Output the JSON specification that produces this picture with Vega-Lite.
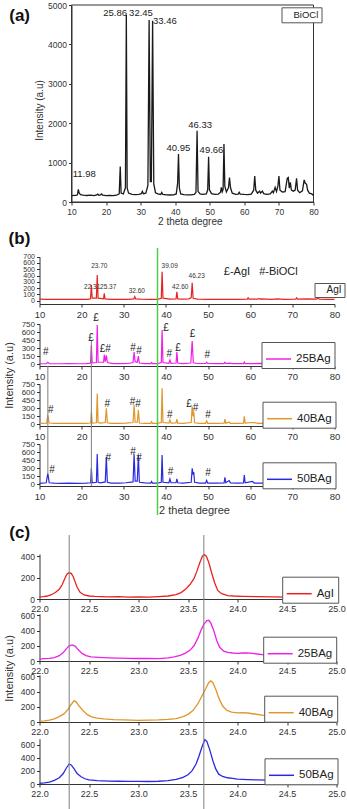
{
  "$schema": "https://vega.github.io/schema/vega-lite/v6.json",
  "background": "white",
  "padding": {"left": 2.5, "top": 1, "right": 0, "bottom": 0},
  "config": {
    "view": {"stroke": null},
    "font": "Liberation Sans",
    "axis": {
      "grid": false,
      "labelFont": "Liberation Sans",
      "labelFontSize": 9.5,
      "labelColor": "#333",
      "labelFlush": false,
      "labelOverlap": false,
      "labelPadding": 2,
      "titleFont": "Liberation Sans",
      "titleFontSize": 11,
      "titleFontWeight": "normal",
      "titleColor": "#333",
      "titleAlign": "center",
      "titleBaseline": "middle",
      "tickSize": 3,
      "tickColor": "#333",
      "domainColor": "#333"
    },
    "legend": {
      "strokeColor": "#555",
      "fillColor": "white",
      "padding": 3.5,
      "symbolType": "stroke",
      "symbolSize": 625,
      "symbolStrokeWidth": 1.5,
      "labelFont": "Liberation Sans",
      "labelFontSize": 11.5,
      "labelColor": "#222",
      "labelOffset": 4
    }
  },
  "datasets": {
    "bioclA": [
      {"x": 10, "y": 160}, {"x": 11, "y": 168}, {"x": 11.6, "y": 172}, {"x": 11.75, "y": 200}, {"x": 11.98, "y": 320}, {"x": 12.2, "y": 230}, {"x": 12.6, "y": 185}, {"x": 13.4, "y": 172}, {"x": 14.5, "y": 165}, {"x": 15.5, "y": 172}, {"x": 16.5, "y": 160}, {"x": 17.3, "y": 178}, {"x": 17.6, "y": 200}, {"x": 17.9, "y": 170}, {"x": 18.4, "y": 182}, {"x": 18.7, "y": 205}, {"x": 19, "y": 172}, {"x": 20, "y": 160}, {"x": 21, "y": 168}, {"x": 22, "y": 162}, {"x": 23, "y": 172}, {"x": 23.8, "y": 205}, {"x": 24.1, "y": 900}, {"x": 24.35, "y": 225}, {"x": 25, "y": 205}, {"x": 25.6, "y": 360}, {"x": 25.86, "y": 4750}, {"x": 26.1, "y": 360}, {"x": 26.5, "y": 225}, {"x": 27.5, "y": 192}, {"x": 28.5, "y": 188}, {"x": 29.5, "y": 192}, {"x": 30.2, "y": 212}, {"x": 30.5, "y": 270}, {"x": 30.8, "y": 212}, {"x": 31.5, "y": 225}, {"x": 32.1, "y": 420}, {"x": 32.45, "y": 4620}, {"x": 32.8, "y": 520}, {"x": 33.1, "y": 520}, {"x": 33.46, "y": 4600}, {"x": 33.8, "y": 460}, {"x": 34.3, "y": 235}, {"x": 35, "y": 205}, {"x": 35.8, "y": 192}, {"x": 36.1, "y": 245}, {"x": 36.4, "y": 192}, {"x": 37.5, "y": 182}, {"x": 38.5, "y": 178}, {"x": 39.5, "y": 182}, {"x": 40.3, "y": 205}, {"x": 40.7, "y": 480}, {"x": 40.95, "y": 1220}, {"x": 41.2, "y": 350}, {"x": 41.6, "y": 205}, {"x": 42.5, "y": 188}, {"x": 43.5, "y": 182}, {"x": 44.5, "y": 182}, {"x": 45.5, "y": 192}, {"x": 46.0, "y": 240}, {"x": 46.33, "y": 1810}, {"x": 46.6, "y": 270}, {"x": 47.2, "y": 205}, {"x": 48, "y": 192}, {"x": 49, "y": 205}, {"x": 49.4, "y": 310}, {"x": 49.66, "y": 1150}, {"x": 49.9, "y": 310}, {"x": 50.5, "y": 212}, {"x": 51.5, "y": 192}, {"x": 52.5, "y": 202}, {"x": 53.1, "y": 250}, {"x": 53.35, "y": 370}, {"x": 53.6, "y": 260}, {"x": 53.85, "y": 320}, {"x": 54.1, "y": 1470}, {"x": 54.35, "y": 400}, {"x": 54.8, "y": 255}, {"x": 55.4, "y": 360}, {"x": 55.7, "y": 620}, {"x": 56, "y": 360}, {"x": 56.5, "y": 225}, {"x": 57.5, "y": 192}, {"x": 58.2, "y": 202}, {"x": 58.5, "y": 245}, {"x": 58.8, "y": 202}, {"x": 60, "y": 192}, {"x": 61, "y": 188}, {"x": 62, "y": 202}, {"x": 62.7, "y": 300}, {"x": 63, "y": 660}, {"x": 63.3, "y": 300}, {"x": 63.8, "y": 225}, {"x": 64.4, "y": 275}, {"x": 64.7, "y": 225}, {"x": 65.2, "y": 275}, {"x": 65.6, "y": 212}, {"x": 66.5, "y": 192}, {"x": 67.5, "y": 205}, {"x": 68.1, "y": 275}, {"x": 68.4, "y": 235}, {"x": 68.9, "y": 370}, {"x": 69.3, "y": 265}, {"x": 69.7, "y": 400}, {"x": 70, "y": 660}, {"x": 70.3, "y": 300}, {"x": 71, "y": 255}, {"x": 71.8, "y": 265}, {"x": 72.4, "y": 600}, {"x": 72.7, "y": 620}, {"x": 73, "y": 350}, {"x": 73.3, "y": 500}, {"x": 73.6, "y": 300}, {"x": 74.2, "y": 275}, {"x": 74.7, "y": 300}, {"x": 75.1, "y": 600}, {"x": 75.4, "y": 300}, {"x": 76, "y": 235}, {"x": 76.8, "y": 285}, {"x": 77.3, "y": 560}, {"x": 77.6, "y": 480}, {"x": 78, "y": 450}, {"x": 78.3, "y": 300}, {"x": 78.8, "y": 225}, {"x": 79.5, "y": 205}, {"x": 80, "y": 165}
    ],
    "labA": [
      {"t": "11.98", "x": 13.7, "y": 700}, {"t": "25.86", "x": 22.6, "y": 4800}, {"t": "32.45", "x": 30.1, "y": 4800}, {"t": "33.46", "x": 37.0, "y": 4600}, {"t": "40.95", "x": 40.9, "y": 1380}, {"t": "46.33", "x": 47.2, "y": 1960}, {"t": "49.66", "x": 50.5, "y": 1320}
    ],
    "agiB": [
      {"x": 10, "y": 25}, {"x": 12, "y": 20}, {"x": 14, "y": 22}, {"x": 16, "y": 20}, {"x": 18, "y": 20}, {"x": 20, "y": 22}, {"x": 21.5, "y": 22}, {"x": 22.1, "y": 30}, {"x": 22.31, "y": 248}, {"x": 22.5, "y": 40}, {"x": 23.5, "y": 40}, {"x": 23.7, "y": 408}, {"x": 23.9, "y": 40}, {"x": 25.2, "y": 30}, {"x": 25.37, "y": 118}, {"x": 25.55, "y": 30}, {"x": 27, "y": 22}, {"x": 29, "y": 20}, {"x": 31, "y": 22}, {"x": 32.4, "y": 30}, {"x": 32.6, "y": 64}, {"x": 32.8, "y": 30}, {"x": 34, "y": 25}, {"x": 36, "y": 22}, {"x": 38, "y": 22}, {"x": 38.9, "y": 40}, {"x": 39.09, "y": 461}, {"x": 39.3, "y": 40}, {"x": 41, "y": 25}, {"x": 42.4, "y": 30}, {"x": 42.6, "y": 143}, {"x": 42.8, "y": 30}, {"x": 44, "y": 25}, {"x": 45.5, "y": 30}, {"x": 46.0, "y": 50}, {"x": 46.23, "y": 286}, {"x": 46.45, "y": 40}, {"x": 47.5, "y": 25}, {"x": 50, "y": 20}, {"x": 52, "y": 22}, {"x": 55, "y": 20}, {"x": 57, "y": 20}, {"x": 59.3, "y": 25}, {"x": 59.5, "y": 45}, {"x": 59.7, "y": 25}, {"x": 61.8, "y": 25}, {"x": 62.0, "y": 35}, {"x": 62.3, "y": 25}, {"x": 62.6, "y": 30}, {"x": 65, "y": 20}, {"x": 66.5, "y": 28}, {"x": 68, "y": 20}, {"x": 70.8, "y": 25}, {"x": 71, "y": 45}, {"x": 71.2, "y": 25}, {"x": 73.5, "y": 30}, {"x": 75.8, "y": 25}, {"x": 76.1, "y": 45}, {"x": 76.4, "y": 25}, {"x": 78, "y": 20}, {"x": 80, "y": 22}
    ],
    "labB": [
      {"t": "22.31", "x": 22.5, "y": 213}, {"t": "23.70", "x": 24.2, "y": 556}, {"t": "25.37", "x": 26.3, "y": 213}, {"t": "32.60", "x": 33.1, "y": 154}, {"t": "39.09", "x": 40.9, "y": 552}, {"t": "42.60", "x": 43.4, "y": 213}, {"t": "46.23", "x": 47.3, "y": 397}
    ],
    "b25": [
      {"x": 10, "y": 12}, {"x": 11.6, "y": 14}, {"x": 11.98, "y": 38}, {"x": 12.4, "y": 14}, {"x": 13.5, "y": 12}, {"x": 15, "y": 12}, {"x": 17, "y": 14}, {"x": 19, "y": 12}, {"x": 21, "y": 14}, {"x": 22.1, "y": 22}, {"x": 22.31, "y": 360}, {"x": 22.5, "y": 30}, {"x": 23.5, "y": 35}, {"x": 23.7, "y": 730}, {"x": 23.9, "y": 40}, {"x": 25.2, "y": 40}, {"x": 25.37, "y": 180}, {"x": 25.6, "y": 50}, {"x": 25.86, "y": 170}, {"x": 26.1, "y": 35}, {"x": 27.5, "y": 15}, {"x": 29, "y": 14}, {"x": 31, "y": 16}, {"x": 32.2, "y": 35}, {"x": 32.45, "y": 230}, {"x": 32.7, "y": 50}, {"x": 33.2, "y": 40}, {"x": 33.46, "y": 155}, {"x": 33.7, "y": 25}, {"x": 35, "y": 15}, {"x": 36.4, "y": 15}, {"x": 36.6, "y": 35}, {"x": 36.8, "y": 15}, {"x": 38, "y": 15}, {"x": 38.9, "y": 35}, {"x": 39.09, "y": 637}, {"x": 39.3, "y": 35}, {"x": 40.7, "y": 20}, {"x": 40.95, "y": 80}, {"x": 41.2, "y": 20}, {"x": 42.4, "y": 25}, {"x": 42.6, "y": 230}, {"x": 42.8, "y": 25}, {"x": 44, "y": 15}, {"x": 45.9, "y": 25}, {"x": 46.23, "y": 433}, {"x": 46.5, "y": 30}, {"x": 47.5, "y": 16}, {"x": 49.4, "y": 16}, {"x": 49.66, "y": 40}, {"x": 49.9, "y": 16}, {"x": 52, "y": 14}, {"x": 53.8, "y": 15}, {"x": 54.0, "y": 40}, {"x": 54.3, "y": 15}, {"x": 55, "y": 25}, {"x": 56, "y": 13}, {"x": 58.4, "y": 15}, {"x": 58.6, "y": 45}, {"x": 58.8, "y": 15}, {"x": 61, "y": 14}, {"x": 62.5, "y": 20}, {"x": 65, "y": 13}, {"x": 68, "y": 16}, {"x": 70.8, "y": 14}, {"x": 71, "y": 30}, {"x": 71.2, "y": 14}, {"x": 74, "y": 15}, {"x": 76, "y": 25}, {"x": 77.5, "y": 14}, {"x": 80, "y": 16}
    ],
    "m25": [
      {"t": "#", "x": 11.5, "y": 224}, {"t": "£", "x": 22.2, "y": 483}, {"t": "£", "x": 23.4, "y": 854}, {"t": "£#", "x": 25.6, "y": 285}, {"t": "#", "x": 32.2, "y": 298}, {"t": "#", "x": 33.6, "y": 254}, {"t": "£", "x": 40.0, "y": 669}, {"t": "#", "x": 40.8, "y": 193}, {"t": "£", "x": 42.9, "y": 298}, {"t": "£", "x": 46.3, "y": 557}, {"t": "#", "x": 49.8, "y": 174}
    ],
    "b40": [
      {"x": 10, "y": 18}, {"x": 11.7, "y": 22}, {"x": 11.98, "y": 174}, {"x": 12.3, "y": 25}, {"x": 13.5, "y": 18}, {"x": 15, "y": 17}, {"x": 17, "y": 18}, {"x": 19, "y": 17}, {"x": 21, "y": 18}, {"x": 22.15, "y": 25}, {"x": 22.31, "y": 235}, {"x": 22.5, "y": 25}, {"x": 23.5, "y": 30}, {"x": 23.7, "y": 575}, {"x": 23.9, "y": 35}, {"x": 24.5, "y": 25}, {"x": 25.6, "y": 35}, {"x": 25.86, "y": 300}, {"x": 26.1, "y": 30}, {"x": 27, "y": 20}, {"x": 29, "y": 18}, {"x": 30.5, "y": 22}, {"x": 32.2, "y": 35}, {"x": 32.45, "y": 360}, {"x": 32.7, "y": 40}, {"x": 33.2, "y": 40}, {"x": 33.46, "y": 267}, {"x": 33.7, "y": 25}, {"x": 35, "y": 20}, {"x": 36.4, "y": 20}, {"x": 36.6, "y": 50}, {"x": 36.8, "y": 20}, {"x": 38, "y": 20}, {"x": 38.9, "y": 35}, {"x": 39.09, "y": 670}, {"x": 39.3, "y": 35}, {"x": 40.7, "y": 22}, {"x": 40.95, "y": 85}, {"x": 41.2, "y": 22}, {"x": 42.4, "y": 25}, {"x": 42.6, "y": 100}, {"x": 42.8, "y": 22}, {"x": 44, "y": 20}, {"x": 46.0, "y": 35}, {"x": 46.23, "y": 330}, {"x": 46.45, "y": 150}, {"x": 46.6, "y": 240}, {"x": 46.8, "y": 30}, {"x": 48, "y": 20}, {"x": 49.4, "y": 20}, {"x": 49.66, "y": 65}, {"x": 49.9, "y": 20}, {"x": 52, "y": 20}, {"x": 53.8, "y": 22}, {"x": 54.0, "y": 100}, {"x": 54.2, "y": 22}, {"x": 55, "y": 40}, {"x": 55.3, "y": 20}, {"x": 57, "y": 20}, {"x": 58.4, "y": 22}, {"x": 58.6, "y": 150}, {"x": 58.8, "y": 22}, {"x": 60.5, "y": 35}, {"x": 62, "y": 20}, {"x": 64, "y": 22}, {"x": 66, "y": 20}, {"x": 68.2, "y": 30}, {"x": 70, "y": 20}, {"x": 71, "y": 35}, {"x": 73, "y": 22}, {"x": 75, "y": 30}, {"x": 77.5, "y": 32}, {"x": 80, "y": 20}
    ],
    "m40": [
      {"t": "#", "x": 12.7, "y": 267}, {"t": "#", "x": 26.1, "y": 383}, {"t": "#", "x": 32.1, "y": 420}, {"t": "#", "x": 33.4, "y": 372}, {"t": "#", "x": 40.9, "y": 174}, {"t": "£", "x": 45.5, "y": 378}, {"t": "#", "x": 47.0, "y": 309}, {"t": "#", "x": 50.0, "y": 174}
    ],
    "b50": [
      {"x": 10, "y": 20}, {"x": 11.6, "y": 30}, {"x": 11.98, "y": 205}, {"x": 12.3, "y": 30}, {"x": 13.5, "y": 22}, {"x": 15, "y": 20}, {"x": 17, "y": 22}, {"x": 19, "y": 20}, {"x": 21, "y": 22}, {"x": 22.15, "y": 30}, {"x": 22.31, "y": 300}, {"x": 22.5, "y": 30}, {"x": 23.5, "y": 40}, {"x": 23.7, "y": 563}, {"x": 23.9, "y": 40}, {"x": 24.5, "y": 30}, {"x": 25.6, "y": 45}, {"x": 25.86, "y": 513}, {"x": 26.1, "y": 40}, {"x": 27, "y": 25}, {"x": 29, "y": 22}, {"x": 30.5, "y": 30}, {"x": 32.2, "y": 45}, {"x": 32.45, "y": 557}, {"x": 32.7, "y": 60}, {"x": 33.2, "y": 60}, {"x": 33.46, "y": 545}, {"x": 33.7, "y": 40}, {"x": 35, "y": 28}, {"x": 36.4, "y": 25}, {"x": 36.6, "y": 55}, {"x": 36.8, "y": 25}, {"x": 38, "y": 25}, {"x": 38.9, "y": 40}, {"x": 39.09, "y": 545}, {"x": 39.3, "y": 40}, {"x": 40.7, "y": 30}, {"x": 40.95, "y": 100}, {"x": 41.2, "y": 30}, {"x": 42.4, "y": 30}, {"x": 42.6, "y": 100}, {"x": 42.8, "y": 30}, {"x": 44, "y": 25}, {"x": 46.0, "y": 40}, {"x": 46.23, "y": 300}, {"x": 46.45, "y": 180}, {"x": 46.6, "y": 230}, {"x": 46.8, "y": 40}, {"x": 48, "y": 25}, {"x": 49.4, "y": 25}, {"x": 49.66, "y": 75}, {"x": 49.9, "y": 25}, {"x": 52, "y": 22}, {"x": 53.8, "y": 28}, {"x": 54.0, "y": 130}, {"x": 54.2, "y": 30}, {"x": 55, "y": 70}, {"x": 55.3, "y": 28}, {"x": 57, "y": 22}, {"x": 58.4, "y": 28}, {"x": 58.6, "y": 175}, {"x": 58.8, "y": 28}, {"x": 60.5, "y": 55}, {"x": 61, "y": 25}, {"x": 63, "y": 25}, {"x": 65, "y": 22}, {"x": 66, "y": 30}, {"x": 68.2, "y": 40}, {"x": 69, "y": 22}, {"x": 71, "y": 40}, {"x": 73, "y": 25}, {"x": 74, "y": 30}, {"x": 75, "y": 40}, {"x": 76, "y": 25}, {"x": 77.5, "y": 50}, {"x": 78, "y": 30}, {"x": 80, "y": 22}
    ],
    "m50": [
      {"t": "#", "x": 13.0, "y": 267}, {"t": "#", "x": 26.3, "y": 483}, {"t": "#", "x": 32.2, "y": 606}, {"t": "#", "x": 33.6, "y": 483}, {"t": "#", "x": 41.1, "y": 224}, {"t": "#", "x": 50.0, "y": 206}
    ],
    "agiC": [
      {"x": 22.0, "y": 20}, {"x": 22.04, "y": 22}, {"x": 22.08, "y": 28}, {"x": 22.12, "y": 40}, {"x": 22.16, "y": 60}, {"x": 22.2, "y": 90}, {"x": 22.23, "y": 135}, {"x": 22.26, "y": 200}, {"x": 22.28, "y": 235}, {"x": 22.3, "y": 245}, {"x": 22.32, "y": 240}, {"x": 22.34, "y": 210}, {"x": 22.36, "y": 160}, {"x": 22.38, "y": 110}, {"x": 22.41, "y": 62}, {"x": 22.45, "y": 38}, {"x": 22.5, "y": 28}, {"x": 22.56, "y": 24}, {"x": 22.62, "y": 22}, {"x": 22.7, "y": 20}, {"x": 22.8, "y": 22}, {"x": 22.9, "y": 18}, {"x": 23.0, "y": 20}, {"x": 23.1, "y": 18}, {"x": 23.2, "y": 22}, {"x": 23.3, "y": 28}, {"x": 23.38, "y": 40}, {"x": 23.43, "y": 60}, {"x": 23.48, "y": 95}, {"x": 23.52, "y": 135}, {"x": 23.56, "y": 190}, {"x": 23.59, "y": 260}, {"x": 23.62, "y": 340}, {"x": 23.645, "y": 400}, {"x": 23.665, "y": 415}, {"x": 23.685, "y": 400}, {"x": 23.71, "y": 340}, {"x": 23.74, "y": 240}, {"x": 23.77, "y": 150}, {"x": 23.8, "y": 80}, {"x": 23.84, "y": 50}, {"x": 23.9, "y": 32}, {"x": 23.96, "y": 28}, {"x": 24.05, "y": 25}, {"x": 24.2, "y": 22}, {"x": 24.35, "y": 20}, {"x": 24.5, "y": 18}, {"x": 24.65, "y": 15}, {"x": 24.8, "y": 14}, {"x": 24.9, "y": 12}, {"x": 25.0, "y": 12}
    ],
    "c25": [
      {"x": 22.0, "y": 25}, {"x": 22.05, "y": 30}, {"x": 22.1, "y": 35}, {"x": 22.15, "y": 45}, {"x": 22.2, "y": 70}, {"x": 22.24, "y": 110}, {"x": 22.27, "y": 160}, {"x": 22.3, "y": 200}, {"x": 22.33, "y": 212}, {"x": 22.36, "y": 195}, {"x": 22.39, "y": 150}, {"x": 22.43, "y": 100}, {"x": 22.47, "y": 70}, {"x": 22.52, "y": 55}, {"x": 22.6, "y": 48}, {"x": 22.7, "y": 42}, {"x": 22.8, "y": 38}, {"x": 22.9, "y": 35}, {"x": 23.0, "y": 33}, {"x": 23.1, "y": 35}, {"x": 23.2, "y": 32}, {"x": 23.3, "y": 40}, {"x": 23.36, "y": 55}, {"x": 23.42, "y": 75}, {"x": 23.47, "y": 100}, {"x": 23.52, "y": 140}, {"x": 23.56, "y": 200}, {"x": 23.6, "y": 300}, {"x": 23.63, "y": 400}, {"x": 23.66, "y": 480}, {"x": 23.69, "y": 530}, {"x": 23.71, "y": 535}, {"x": 23.73, "y": 500}, {"x": 23.76, "y": 400}, {"x": 23.79, "y": 270}, {"x": 23.82, "y": 180}, {"x": 23.86, "y": 130}, {"x": 23.9, "y": 112}, {"x": 23.95, "y": 105}, {"x": 24.0, "y": 100}, {"x": 24.05, "y": 105}, {"x": 24.1, "y": 108}, {"x": 24.15, "y": 100}, {"x": 24.2, "y": 92}, {"x": 24.25, "y": 85}, {"x": 24.3, "y": 75}, {"x": 24.4, "y": 62}, {"x": 24.5, "y": 55}, {"x": 24.6, "y": 48}, {"x": 24.7, "y": 42}, {"x": 24.8, "y": 40}, {"x": 24.9, "y": 35}, {"x": 25.0, "y": 38}
    ],
    "c40": [
      {"x": 22.0, "y": 12}, {"x": 22.05, "y": 15}, {"x": 22.1, "y": 25}, {"x": 22.15, "y": 40}, {"x": 22.2, "y": 70}, {"x": 22.25, "y": 110}, {"x": 22.29, "y": 170}, {"x": 22.32, "y": 230}, {"x": 22.35, "y": 280}, {"x": 22.37, "y": 265}, {"x": 22.4, "y": 210}, {"x": 22.44, "y": 150}, {"x": 22.48, "y": 100}, {"x": 22.52, "y": 70}, {"x": 22.58, "y": 50}, {"x": 22.65, "y": 40}, {"x": 22.75, "y": 32}, {"x": 22.85, "y": 28}, {"x": 23.0, "y": 22}, {"x": 23.1, "y": 25}, {"x": 23.2, "y": 28}, {"x": 23.3, "y": 35}, {"x": 23.38, "y": 45}, {"x": 23.45, "y": 70}, {"x": 23.5, "y": 100}, {"x": 23.55, "y": 150}, {"x": 23.6, "y": 240}, {"x": 23.64, "y": 340}, {"x": 23.68, "y": 440}, {"x": 23.71, "y": 520}, {"x": 23.73, "y": 540}, {"x": 23.75, "y": 520}, {"x": 23.78, "y": 430}, {"x": 23.81, "y": 320}, {"x": 23.85, "y": 210}, {"x": 23.89, "y": 155}, {"x": 23.94, "y": 130}, {"x": 24.0, "y": 120}, {"x": 24.05, "y": 122}, {"x": 24.1, "y": 118}, {"x": 24.17, "y": 105}, {"x": 24.25, "y": 90}, {"x": 24.33, "y": 75}, {"x": 24.4, "y": 60}, {"x": 24.5, "y": 45}, {"x": 24.6, "y": 40}, {"x": 24.7, "y": 35}, {"x": 24.8, "y": 32}, {"x": 24.9, "y": 30}, {"x": 25.0, "y": 45}
    ],
    "c50": [
      {"x": 22.0, "y": 10}, {"x": 22.05, "y": 18}, {"x": 22.1, "y": 30}, {"x": 22.15, "y": 55}, {"x": 22.2, "y": 95}, {"x": 22.24, "y": 160}, {"x": 22.27, "y": 240}, {"x": 22.3, "y": 305}, {"x": 22.32, "y": 290}, {"x": 22.35, "y": 230}, {"x": 22.38, "y": 160}, {"x": 22.42, "y": 110}, {"x": 22.46, "y": 80}, {"x": 22.5, "y": 62}, {"x": 22.58, "y": 52}, {"x": 22.7, "y": 45}, {"x": 22.8, "y": 42}, {"x": 22.9, "y": 40}, {"x": 23.0, "y": 40}, {"x": 23.1, "y": 38}, {"x": 23.2, "y": 42}, {"x": 23.3, "y": 50}, {"x": 23.38, "y": 70}, {"x": 23.45, "y": 100}, {"x": 23.5, "y": 140}, {"x": 23.54, "y": 200}, {"x": 23.58, "y": 300}, {"x": 23.61, "y": 420}, {"x": 23.64, "y": 560}, {"x": 23.67, "y": 675}, {"x": 23.69, "y": 650}, {"x": 23.72, "y": 520}, {"x": 23.75, "y": 360}, {"x": 23.78, "y": 230}, {"x": 23.81, "y": 150}, {"x": 23.85, "y": 115}, {"x": 23.9, "y": 95}, {"x": 23.95, "y": 85}, {"x": 24.0, "y": 75}, {"x": 24.1, "y": 68}, {"x": 24.2, "y": 62}, {"x": 24.3, "y": 58}, {"x": 24.4, "y": 52}, {"x": 24.5, "y": 50}, {"x": 24.6, "y": 45}, {"x": 24.7, "y": 42}, {"x": 24.8, "y": 40}, {"x": 24.9, "y": 42}, {"x": 25.0, "y": 40}
    ]
  },
  "bounds": "flush",
  "spacing": 0,
  "resolve": {"scale": {"x": "independent", "y": "independent", "color": "independent"}},
  "vconcat": [
    {
      "width": 297,
      "height": 197,
      "encoding": {
        "x": {"field": "x", "type": "quantitative", "scale": {"domain": [10, 80], "range": [32, 274], "nice": false, "zero": false},
              "axis": {"values": [10, 20, 30, 40, 50, 60, 70, 80], "format": "d", "labelOverlap": false, "labelFontSize": 8.5, "title": "2 theta degree", "titleFontSize": 10, "titleX": 150.3, "titleY": 19.7}},
        "y": {"field": "y", "type": "quantitative", "scale": {"domain": [0, 5000], "nice": false, "zero": false},
              "axis": {"values": [0, 1000, 2000, 3000, 4000, 5000], "format": "d", "labelOverlap": false, "offset": -32, "labelFontSize": 8.5, "title": "Intensity (a.u)", "titleFontSize": 10, "titleX": -31.7, "titleY": 105}}
      },
      "layer": [
        {
          "data": {"values": [{"x": 10, "x2": 80, "y": 0, "y2": 5000}]},
          "mark": {"type": "rect", "filled": false, "stroke": "#333", "strokeWidth": 1},
          "encoding": {"x2": {"field": "x2"}, "y2": {"field": "y2"}}
        },
        {
          "data": {"name": "bioclA"},
          "mark": {"type": "line", "strokeWidth": 1.3},
          "encoding": {
            "color": {"datum": "BiOCl", "scale": {"range": ["#1a1a1a"]},
                      "legend": {"title": null, "orient": "none", "legendX": 242, "legendY": 2.3, "symbolSize": 0, "symbolOpacity": 0, "symbolStrokeWidth": 0, "labelOffset": 0, "labelFontSize": 9.5, "padding": 2.5}}
          }
        },
        {
          "data": {"name": "labA"},
          "mark": {"type": "text", "fontSize": 9.5, "color": "#222"},
          "encoding": {"text": {"field": "t"}}
        },
        {
          "data": {"values": [{"t": "(a)", "x": -5.0, "y": 4733}]},
          "mark": {"type": "text", "fontSize": 17, "fontWeight": "bold", "color": "#111"},
          "encoding": {"text": {"field": "t"}}
        }
      ]
    },
    {
      "width": 297,
      "height": 102,
      "encoding": {
        "x": {"field": "x", "type": "quantitative", "scale": {"domain": [10, 80], "range": [0, 295], "nice": false, "zero": false},
              "axis": {"values": [10, 20, 30, 40, 50, 60, 70, 80], "format": "d", "labelOverlap": false, "title": null}},
        "y": {"field": "y", "type": "quantitative", "scale": {"domain": [-52, 700], "range": [102, 54.7], "nice": false, "zero": false},
              "axis": {"values": [0, 100, 200, 300, 400, 500, 600, 700], "format": "d", "labelOverlap": false, "labelFontSize": 7, "title": null}}
      },
      "layer": [
        {
          "data": {"name": "agiB"},
          "mark": {"type": "line", "strokeWidth": 1.2},
          "encoding": {
            "color": {"datum": "AgI", "scale": {"range": ["#e8231f"]},
                      "legend": {"title": null, "orient": "none", "legendX": 275, "legendY": 81, "symbolSize": 0, "symbolOpacity": 0, "symbolStrokeWidth": 0, "labelOffset": 0, "labelFontSize": 10, "padding": 2}}
          }
        },
        {
          "data": {"values": [{"x": 38, "y": 838, "y2": -52}]},
          "mark": {"type": "rule", "color": "#4ccf4c", "strokeWidth": 1.5},
          "encoding": {"y2": {"field": "y2"}}
        },
        {
          "data": {"name": "labB"},
          "mark": {"type": "text", "fontSize": 6.5, "color": "#333"},
          "encoding": {"text": {"field": "t"}}
        },
        {
          "data": {"values": [{"t": "£-AgI\u00a0\u00a0\u00a0#-BiOCl", "x": 62.5, "y": 461}]},
          "mark": {"type": "text", "fontSize": 11, "color": "#222"},
          "encoding": {"text": {"field": "t"}}
        },
        {
          "data": {"values": [{"t": "(b)", "x": 5.25, "y": 981}]},
          "mark": {"type": "text", "fontSize": 17, "fontWeight": "bold", "color": "#111"},
          "encoding": {"text": {"field": "t"}}
        }
      ]
    },
    {
      "width": 297,
      "height": 62,
      "encoding": {
        "x": {"field": "x", "type": "quantitative", "scale": {"domain": [10, 80], "range": [0, 295], "nice": false, "zero": false},
              "axis": {"values": [10, 20, 30, 40, 50, 60, 70, 80], "format": "d", "labelOverlap": false, "title": null}},
        "y": {"field": "y", "type": "quantitative", "scale": {"domain": [-30, 750], "range": [62, 20], "nice": false, "zero": false},
              "axis": {"values": [0, 150, 300, 450, 600, 750], "format": "d", "labelOverlap": false, "labelFontSize": 8, "title": "Intensity (a.u)", "titleX": -30, "titleY": 71}}
      },
      "layer": [
        {
          "data": {"name": "b25"},
          "mark": {"type": "line", "strokeWidth": 1.2},
          "encoding": {
            "color": {"datum": "25BAg", "scale": {"range": ["#ee1fe8"]},
                      "legend": {"title": null, "orient": "none", "legendX": 222, "legendY": 38}}
          }
        },
        {
          "data": {"values": [{"x": 38, "y": 1125, "y2": -30}]},
          "mark": {"type": "rule", "color": "#4ccf4c", "strokeWidth": 1.5},
          "encoding": {"y2": {"field": "y2"}}
        },
        {
          "data": {"values": [{"x": 22.31, "y": 453, "y2": -30}]},
          "mark": {"type": "rule", "color": "#7f7f7f", "strokeWidth": 1},
          "encoding": {"y2": {"field": "y2"}}
        },
        {
          "data": {"name": "m25"},
          "mark": {"type": "text", "fontSize": 10, "color": "#222"},
          "encoding": {"text": {"field": "t"}}
        }
      ]
    },
    {
      "width": 297,
      "height": 60,
      "encoding": {
        "x": {"field": "x", "type": "quantitative", "scale": {"domain": [10, 80], "range": [0, 295], "nice": false, "zero": false},
              "axis": {"values": [10, 20, 30, 40, 50, 60, 70, 80], "format": "d", "labelOverlap": false, "title": null}},
        "y": {"field": "y", "type": "quantitative", "scale": {"domain": [-30, 750], "range": [60, 18], "nice": false, "zero": false},
              "axis": {"values": [0, 150, 300, 450, 600, 750], "format": "d", "labelOverlap": false, "labelFontSize": 8, "title": null}}
      },
      "layer": [
        {
          "data": {"name": "b40"},
          "mark": {"type": "line", "strokeWidth": 1.2},
          "encoding": {
            "color": {"datum": "40BAg", "scale": {"range": ["#e0962a"]},
                      "legend": {"title": null, "orient": "none", "legendX": 223, "legendY": 35.7}}
          }
        },
        {
          "data": {"values": [{"x": 38, "y": 1088, "y2": -30}]},
          "mark": {"type": "rule", "color": "#4ccf4c", "strokeWidth": 1.5},
          "encoding": {"y2": {"field": "y2"}}
        },
        {
          "data": {"values": [{"x": 22.31, "y": 1088, "y2": -30}, {"x": 11.98, "y": 1088, "y2": -30}]},
          "mark": {"type": "rule", "color": "#7f7f7f", "strokeWidth": 1},
          "encoding": {"y2": {"field": "y2"}}
        },
        {
          "data": {"name": "m40"},
          "mark": {"type": "text", "fontSize": 10, "color": "#222"},
          "encoding": {"text": {"field": "t"}}
        }
      ]
    },
    {
      "width": 297,
      "height": 60,
      "encoding": {
        "x": {"field": "x", "type": "quantitative", "scale": {"domain": [10, 80], "range": [0, 295], "nice": false, "zero": false},
              "axis": {"values": [10, 20, 30, 40, 50, 60, 70, 80], "format": "d", "labelOverlap": false, "title": "2 theta degree", "titleX": 154.5, "titleY": 24}},
        "y": {"field": "y", "type": "quantitative", "scale": {"domain": [-30, 750], "range": [60, 18], "nice": false, "zero": false},
              "axis": {"values": [0, 150, 300, 450, 600, 750], "format": "d", "labelOverlap": false, "labelFontSize": 8, "title": null}}
      },
      "layer": [
        {
          "data": {"name": "b50"},
          "mark": {"type": "line", "strokeWidth": 1.2},
          "encoding": {
            "color": {"datum": "50BAg", "scale": {"range": ["#2a2ae0"]},
                      "legend": {"title": null, "orient": "none", "legendX": 223, "legendY": 36.3}}
          }
        },
        {
          "data": {"values": [{"x": 38, "y": 1088, "y2": -569}]},
          "mark": {"type": "rule", "color": "#4ccf4c", "strokeWidth": 1.5},
          "encoding": {"y2": {"field": "y2"}}
        },
        {
          "data": {"values": [{"x": 22.31, "y": 1088, "y2": -30}, {"x": 11.98, "y": 1088, "y2": 211}]},
          "mark": {"type": "rule", "color": "#7f7f7f", "strokeWidth": 1},
          "encoding": {"y2": {"field": "y2"}}
        },
        {
          "data": {"name": "m50"},
          "mark": {"type": "text", "fontSize": 10, "color": "#222"},
          "encoding": {"text": {"field": "t"}}
        }
      ]
    },
    {
      "width": 297,
      "height": 113,
      "encoding": {
        "x": {"field": "x", "type": "quantitative", "scale": {"domain": [22, 25], "range": [0, 297], "nice": false, "zero": false},
              "axis": {"values": [22, 22.5, 23, 23.5, 24, 24.5, 25], "format": ".1f", "labelOverlap": false, "labelFontSize": 9, "title": null}},
        "y": {"field": "y", "type": "quantitative", "scale": {"domain": [0, 420], "range": [113, 68], "nice": false, "zero": false},
              "axis": {"values": [0, 200, 400], "format": "d", "labelOverlap": false, "labelFontSize": 8.5, "title": null}}
      },
      "layer": [
        {
          "data": {"name": "agiC"},
          "mark": {"type": "line", "strokeWidth": 1.3},
          "encoding": {
            "color": {"datum": "AgI", "scale": {"range": ["#e8231f"]},
                      "legend": {"title": null, "orient": "none", "legendX": 242.7, "legendY": 90.7}}
          }
        },
        {
          "data": {"values": [{"x": 22.3, "y": 597, "y2": 0}, {"x": 23.66, "y": 597, "y2": 0}]},
          "mark": {"type": "rule", "color": "#7f7f7f", "strokeWidth": 1},
          "encoding": {"y2": {"field": "y2"}}
        },
        {
          "data": {"values": [{"t": "(c)", "x": 21.8, "y": 616}]},
          "mark": {"type": "text", "fontSize": 17, "fontWeight": "bold", "color": "#111"},
          "encoding": {"text": {"field": "t"}}
        }
      ]
    },
    {
      "width": 297,
      "height": 62,
      "encoding": {
        "x": {"field": "x", "type": "quantitative", "scale": {"domain": [22, 25], "range": [0, 297], "nice": false, "zero": false},
              "axis": {"values": [22, 22.5, 23, 23.5, 24, 24.5, 25], "format": ".1f", "labelOverlap": false, "labelFontSize": 9, "title": null}},
        "y": {"field": "y", "type": "quantitative", "scale": {"domain": [0, 620], "range": [62, 14.8], "nice": false, "zero": false},
              "axis": {"values": [0, 200, 400, 600], "format": "d", "labelOverlap": false, "labelFontSize": 8.5, "title": "Intensity (a.u)", "titleX": -30, "titleY": 69}}
      },
      "layer": [
        {
          "data": {"name": "c25"},
          "mark": {"type": "line", "strokeWidth": 1.3},
          "encoding": {
            "color": {"datum": "25BAg", "scale": {"range": ["#ee1fe8"]},
                      "legend": {"title": null, "orient": "none", "legendX": 223.7, "legendY": 37.7}}
          }
        },
        {
          "data": {"values": [{"x": 22.3, "y": 820, "y2": 0}, {"x": 23.66, "y": 820, "y2": 0}]},
          "mark": {"type": "rule", "color": "#7f7f7f", "strokeWidth": 1},
          "encoding": {"y2": {"field": "y2"}}
        }
      ]
    },
    {
      "width": 297,
      "height": 61,
      "encoding": {
        "x": {"field": "x", "type": "quantitative", "scale": {"domain": [22, 25], "range": [0, 297], "nice": false, "zero": false},
              "axis": {"values": [22, 22.5, 23, 23.5, 24, 24.5, 25], "format": ".1f", "labelOverlap": false, "labelFontSize": 9, "title": null}},
        "y": {"field": "y", "type": "quantitative", "scale": {"domain": [0, 620], "range": [61, 13.8], "nice": false, "zero": false},
              "axis": {"values": [0, 200, 400, 600], "format": "d", "labelOverlap": false, "labelFontSize": 8.5, "title": null}}
      },
      "layer": [
        {
          "data": {"name": "c40"},
          "mark": {"type": "line", "strokeWidth": 1.3},
          "encoding": {
            "color": {"datum": "40BAg", "scale": {"range": ["#e0962a"]},
                      "legend": {"title": null, "orient": "none", "legendX": 224.7, "legendY": 34.7}}
          }
        },
        {
          "data": {"values": [{"x": 22.3, "y": 806, "y2": 0}, {"x": 23.66, "y": 806, "y2": 0}]},
          "mark": {"type": "rule", "color": "#7f7f7f", "strokeWidth": 1},
          "encoding": {"y2": {"field": "y2"}}
        }
      ]
    },
    {
      "width": 297,
      "height": 62,
      "encoding": {
        "x": {"field": "x", "type": "quantitative", "scale": {"domain": [22, 25], "range": [0, 297], "nice": false, "zero": false},
              "axis": {"values": [22, 22.5, 23, 23.5, 24, 24.5, 25], "format": ".1f", "labelOverlap": false, "labelFontSize": 9, "title": null}},
        "y": {"field": "y", "type": "quantitative", "scale": {"domain": [0, 690], "range": [62, 16.7], "nice": false, "zero": false},
              "axis": {"values": [0, 200, 400, 600], "format": "d", "labelOverlap": false, "labelFontSize": 8.5, "title": null}}
      },
      "layer": [
        {
          "data": {"name": "c50"},
          "mark": {"type": "line", "strokeWidth": 1.3},
          "encoding": {
            "color": {"datum": "50BAg", "scale": {"range": ["#2a2ae0"]},
                      "legend": {"title": null, "orient": "none", "legendX": 225, "legendY": 36.3}}
          }
        },
        {
          "data": {"values": [{"x": 22.3, "y": 944, "y2": -420}, {"x": 23.66, "y": 944, "y2": -420}]},
          "mark": {"type": "rule", "color": "#7f7f7f", "strokeWidth": 1},
          "encoding": {"y2": {"field": "y2"}}
        }
      ]
    }
  ]
}
